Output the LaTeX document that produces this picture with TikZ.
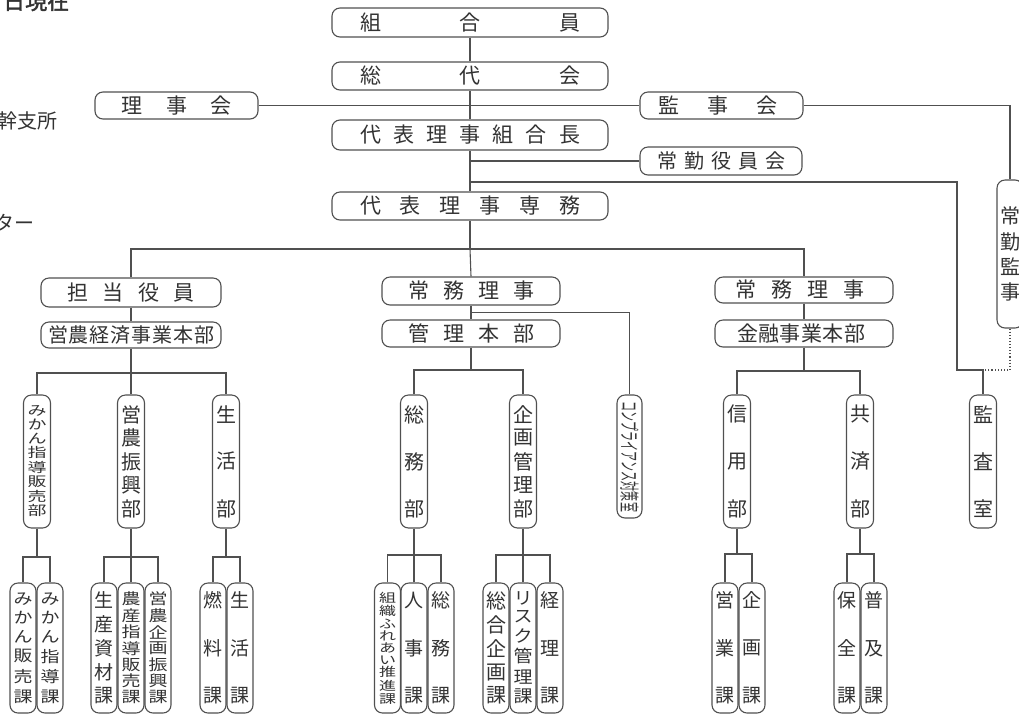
\documentclass[tikz,border=0pt]{standalone}
\usepackage{fontspec}
\newfontfamily\jp{Noto Sans CJK JP}
\newfontfamily\jpbold[FakeBold=2]{Noto Sans CJK JP}
\usetikzlibrary{calc}
\definecolor{linec}{HTML}{505050}
\definecolor{textc}{HTML}{333333}
\makeatletter
\newcommand\Hchars[3]{\hbox to #1{\def\rs@first{1}\@tfor\rs@c:=#3\do{\ifx\rs@first\empty\hfill\fi\scalebox{#2}[1]{\rs@c}\let\rs@first\empty}}}
\newcommand\Vchars[3]{\vbox to #1{\offinterlineskip\def\rs@first{1}\@tfor\rs@c:=#3\do{\ifx\rs@first\empty\vfill\fi\hbox to 1em{\hss\scalebox{1}[#2]{\rs@c}\hss}\let\rs@first\empty}}}
\makeatother
\tikzset{
  fs/.style={font=\jp\fontsize{#1}{#1}\selectfont},
  hb/.style={draw=linec, line width=1.1pt, rounded corners=8pt, fill=white, inner sep=0pt, text=textc},
  top/.style={hb, fs=21, minimum width=276pt, minimum height=28pt},
  mid/.style={hb, fs=21, minimum width=178pt, minimum height=27pt},
  vb/.style={hb, fs=20, minimum width=27pt, minimum height=133pt},
  lb/.style={hb, fs=19, minimum width=26pt, minimum height=130pt},
  ln/.style={draw=linec, line width=1.1pt},
  frag/.style={anchor=west, inner sep=0pt, text=textc, fs=20}
}
\begin{document}
\begin{tikzpicture}[x=1pt,y=-1pt]
\useasboundingbox (0,0) rectangle (1019,716);
\fill[white] (0,0) rectangle (1019,716);
% fragments at left edge
\node[frag, font=\jpbold\fontsize{22}{22}\selectfont] (date) at (3,1) {日現在};
\node[frag] (shisho) at (-3,121) {幹支所};
\node[frag] (center) at (-6,223) {ター};
% top column
\node[top, minimum height=29pt] (kumiai) at (470,22.5) {\Hchars{220pt}{1}{組合員}};
\node[top] (sodai) at (470,76) {\Hchars{220pt}{1}{総代会}};
\node[top, minimum height=30pt] (kumiaicho) at (470,135) {\Hchars{220pt}{1}{代表理事組合長}};
\node[top] (senmu) at (470,206) {\Hchars{220pt}{1}{代表理事専務}};
\node[hb, fs=21, minimum width=163pt, minimum height=27pt] (riji) at (176.5,105.5) {\Hchars{110pt}{1}{理事会}};
\node[hb, fs=21, minimum width=163pt, minimum height=27pt] (kanji) at (721.5,105.5) {\Hchars{119pt}{1}{監事会}\hspace*{8pt}};
\node[hb, fs=20, minimum width=162pt, minimum height=28pt] (jokin) at (721,161) {\Hchars{128pt}{1}{常勤役員会}};
\node[hb, fs=20, minimum width=26pt, minimum height=148pt] (jokinkanji) at (1010,254) {\Vchars{92pt}{1}{常勤監事}};
% second level
\node[mid, minimum width=180pt, minimum height=29pt] (tanto) at (131,292.5) {\Hchars{127pt}{1}{担当役員}};
\node[mid, fs=20, minimum width=180pt, minimum height=26pt] (einokeizai) at (131,335) {\Hchars{166pt}{1}{営農経済事業本部}};
\node[mid, minimum height=28pt] (jomu1) at (471,291) {\Hchars{126pt}{1}{常務理事}};
\node[mid] (kanri) at (471,333.5) {\Hchars{126pt}{1}{管理本部}};
\node[mid, minimum height=26pt] (jomu2) at (804,290) {\Hchars{129pt}{1}{常務理事}\hspace*{8pt}};
\node[mid] (kinyu) at (804,333.5) {\Hchars{128pt}{1}{金融事業本部}\hspace*{6pt}};
% third level
\node[vb, fs=19] (mikanbu) at (37,461.5) {\Vchars{110pt}{0.7}{みかん指導販売部}};
\node[vb] (eishinbu) at (131,461.5) {\Vchars{111pt}{1}{営農振興部}};
\node[vb] (seikatsubu) at (226,461.5) {\Vchars{111pt}{1}{生活部}};
\node[vb] (somubu) at (414,461.5) {\Vchars{111pt}{1}{総務部}};
\node[vb] (kikakubu) at (523,461.5) {\Vchars{111pt}{1}{企画管理部}};
\node[vb, fs=20, minimum width=25pt, minimum height=123pt] (comp) at (629.5,456.5) {\rotatebox{-90}{\Hchars{111pt}{0.5}{コンプライアンス対策室}}};
\node[vb] (shinyobu) at (737,461.5) {\Vchars{111pt}{1}{信用部}};
\node[vb] (kyosaibu) at (860,461.5) {\Vchars{111pt}{1}{共済部}};
\node[vb] (kansa) at (983,461.5) {\Vchars{111pt}{1}{監査室}};
% bottom level
\node[lb] (mikanhanbai) at (23,648) {\Vchars{110pt}{0.82}{みかん販売課}};
\node[lb] (mikanshido) at (50,648) {\Vchars{110pt}{0.82}{みかん指導課}};
\node[lb] (seisanshizai) at (104,648) {\Vchars{111pt}{1}{生産資材課}};
\node[lb] (nosan) at (131,648) {\Vchars{111pt}{0.8}{農産指導販売課}};
\node[lb] (einokikaku) at (158,648) {\Vchars{111pt}{0.8}{営農企画振興課}};
\node[lb] (nenryo) at (213,648) {\Vchars{111pt}{1}{燃料課}};
\node[lb] (seikatsuka) at (240,648) {\Vchars{111pt}{1}{生活課}};
\node[lb, fs=17] (soshiki) at (387.5,648) {\Vchars{111pt}{0.72}{組織ふれあい推進課}};
\node[lb] (jinji) at (414,648) {\Vchars{111pt}{1}{人事課}};
\node[lb] (somuka) at (441,648) {\Vchars{111pt}{1}{総務課}};
\node[lb, fs=20] (sogokikaku) at (496,648) {\Vchars{111pt}{1}{総合企画課}};
\node[lb] (risk) at (523,648) {\Vchars{111pt}{0.9}{リスク管理課}};
\node[lb] (keiri) at (550,648) {\Vchars{111pt}{1}{経理課}};
\node[lb] (eigyo) at (725,648) {\Vchars{111pt}{1}{営業課}};
\node[lb] (kikakuka) at (752,648) {\Vchars{111pt}{1}{企画課}};
\node[lb] (hozen) at (847,648) {\Vchars{111pt}{1}{保全課}};
\node[lb] (fukyu) at (874,648) {\Vchars{111pt}{1}{普及課}};
% junction coordinates
\coordinate (auditA) at (957,182);
\coordinate (auditB) at (983,370);
\coordinate (b1) at (470,249);
\coordinate (e1) at (131,373);
\coordinate (k1) at (471,370);
\coordinate (f1) at (804,371);
\coordinate (m1) at (37,557);
\coordinate (m2) at (131,557);
\coordinate (m3) at (226,557);
\coordinate (m4) at (414,555);
\coordinate (m5) at (523,555);
\coordinate (m6) at (737,554);
\coordinate (m7) at (860,554);
% connectors
\draw[ln] (kumiai) -- (sodai);
\draw[ln] (sodai) -- (kumiaicho);
\draw[ln] (kumiaicho) -- (senmu);
\draw[ln] (riji) -- (kanji);
\draw[ln] (jokin.west) -- (jokin.west -| kumiaicho.south);
\draw[ln] (kumiaicho.south |- auditA) -- (auditA) |- (auditB) -- (kansa.north);
\draw[ln] (kanji.east) -| (jokinkanji.north);
\draw[ln, dotted] (jokinkanji.south) |- (auditB);
\draw[ln] (senmu.south) -- (b1);
\draw[ln] (tanto.north) |- (b1) -| (jomu2.north);
\draw[ln] (b1) -- (jomu1.north);
\draw[ln] (tanto) -- (einokeizai);
\draw[ln] (jomu1) -- (kanri);
\draw[ln] (jomu2) -- (kinyu);
\coordinate (c1) at ($(jomu1.south)!0.5!(kanri.north)$);
\draw[ln] (c1) -| (comp.north);
\draw[ln] (einokeizai) -- (e1);
\draw[ln] (mikanbu.north) |- (e1) -| (seikatsubu.north);
\draw[ln] (eishinbu) -- (e1);
\draw[ln] (kanri) -- (k1);
\draw[ln] (somubu.north) |- (k1) -| (kikakubu.north);
\draw[ln] (kinyu) -- (f1);
\draw[ln] (shinyobu.north) |- (f1) -| (kyosaibu.north);
\draw[ln] (mikanbu) -- (m1);
\draw[ln] (mikanhanbai.north) |- (m1) -| (mikanshido.north);
\draw[ln] (eishinbu) -- (m2);
\draw[ln] (seisanshizai.north) |- (m2) -| (einokikaku.north);
\draw[ln] (nosan) -- (m2);
\draw[ln] (seikatsubu) -- (m3);
\draw[ln] (nenryo.north) |- (m3) -| (seikatsuka.north);
\draw[ln] (somubu) -- (m4);
\draw[ln] (soshiki.north) |- (m4) -| (somuka.north);
\draw[ln] (jinji) -- (m4);
\draw[ln] (kikakubu) -- (m5);
\draw[ln] (sogokikaku.north) |- (m5) -| (keiri.north);
\draw[ln] (risk) -- (m5);
\draw[ln] (shinyobu) -- (m6);
\draw[ln] (eigyo.north) |- (m6) -| (kikakuka.north);
\draw[ln] (kyosaibu) -- (m7);
\draw[ln] (hozen.north) |- (m7) -| (fukyu.north);
\end{tikzpicture}
\end{document}
